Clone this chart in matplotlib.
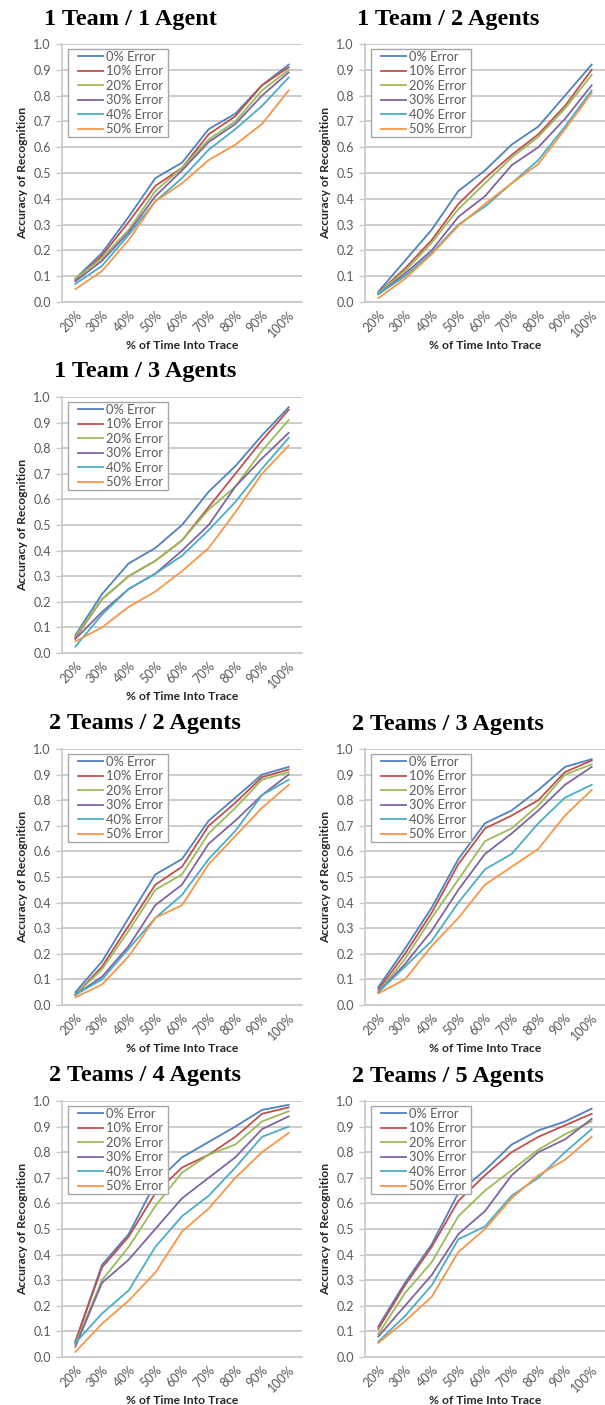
import matplotlib
matplotlib.use("Agg")
from matplotlib import pyplot as plt
from matplotlib.patches import Rectangle

# % of time into trace (category axis)
time_labels = ["20%", "30%", "40%", "50%", "60%", "70%", "80%", "90%", "100%"]
error_labels = ["0% Error", "10% Error", "20% Error", "30% Error", "40% Error", "50% Error"]
error_colors = ["#4F81BD", "#C0504D", "#9BBB59", "#8064A2", "#4BACC6", "#F79646"]

# accuracy of recognition, one row per error level
team1_agent1 = [
    [0.09, 0.19, 0.33, 0.48, 0.54, 0.67, 0.73, 0.84, 0.92],
    [0.085, 0.18, 0.31, 0.45, 0.52, 0.65, 0.72, 0.84, 0.91],
    [0.09, 0.17, 0.28, 0.43, 0.52, 0.63, 0.70, 0.82, 0.90],
    [0.08, 0.16, 0.27, 0.41, 0.51, 0.62, 0.69, 0.80, 0.89],
    [0.07, 0.14, 0.26, 0.39, 0.48, 0.59, 0.67, 0.76, 0.87],
    [0.05, 0.12, 0.24, 0.39, 0.46, 0.55, 0.61, 0.69, 0.82],
]
team1_agent2 = [
    [0.04, 0.16, 0.28, 0.43, 0.51, 0.61, 0.68, 0.80, 0.92],
    [0.035, 0.13, 0.24, 0.38, 0.48, 0.57, 0.65, 0.76, 0.90],
    [0.035, 0.12, 0.23, 0.36, 0.46, 0.56, 0.64, 0.75, 0.88],
    [0.03, 0.11, 0.20, 0.33, 0.41, 0.53, 0.60, 0.71, 0.84],
    [0.03, 0.10, 0.19, 0.30, 0.37, 0.46, 0.55, 0.68, 0.82],
    [0.015, 0.09, 0.185, 0.295, 0.38, 0.46, 0.535, 0.67, 0.81],
]
team1_agent3 = [
    [0.07, 0.23, 0.35, 0.41, 0.50, 0.63, 0.73, 0.85, 0.96],
    [0.06, 0.21, 0.30, 0.36, 0.44, 0.57, 0.70, 0.83, 0.95],
    [0.065, 0.21, 0.30, 0.36, 0.44, 0.56, 0.65, 0.79, 0.91],
    [0.055, 0.16, 0.25, 0.31, 0.40, 0.50, 0.65, 0.76, 0.86],
    [0.025, 0.15, 0.25, 0.31, 0.38, 0.48, 0.59, 0.72, 0.84],
    [0.045, 0.10, 0.18, 0.24, 0.32, 0.41, 0.55, 0.70, 0.81],
]
team2_agent2 = [
    [0.05, 0.17, 0.34, 0.51, 0.57, 0.72, 0.81, 0.90, 0.93],
    [0.04, 0.15, 0.31, 0.47, 0.54, 0.70, 0.79, 0.89, 0.92],
    [0.04, 0.14, 0.29, 0.45, 0.51, 0.67, 0.77, 0.88, 0.91],
    [0.04, 0.11, 0.23, 0.39, 0.47, 0.63, 0.72, 0.82, 0.90],
    [0.04, 0.10, 0.22, 0.34, 0.43, 0.57, 0.68, 0.82, 0.88],
    [0.03, 0.08, 0.19, 0.34, 0.39, 0.55, 0.66, 0.77, 0.86],
]
team2_agent3 = [
    [0.07, 0.22, 0.38, 0.57, 0.71, 0.76, 0.84, 0.93, 0.96],
    [0.06, 0.20, 0.36, 0.55, 0.69, 0.74, 0.80, 0.91, 0.955],
    [0.05, 0.18, 0.34, 0.49, 0.64, 0.69, 0.78, 0.90, 0.94],
    [0.05, 0.16, 0.29, 0.45, 0.59, 0.67, 0.76, 0.86, 0.93],
    [0.05, 0.15, 0.25, 0.40, 0.53, 0.59, 0.71, 0.81, 0.86],
    [0.045, 0.10, 0.23, 0.34, 0.47, 0.54, 0.61, 0.74, 0.84],
]
team2_agent4 = [
    [0.06, 0.36, 0.48, 0.68, 0.78, 0.84, 0.90, 0.965, 0.985],
    [0.06, 0.35, 0.47, 0.64, 0.74, 0.79, 0.86, 0.95, 0.975],
    [0.05, 0.30, 0.43, 0.59, 0.72, 0.79, 0.83, 0.92, 0.96],
    [0.04, 0.29, 0.38, 0.50, 0.62, 0.70, 0.78, 0.89, 0.94],
    [0.055, 0.17, 0.26, 0.43, 0.55, 0.63, 0.74, 0.86, 0.90],
    [0.02, 0.13, 0.22, 0.33, 0.49, 0.58, 0.70, 0.80, 0.875],
]
team2_agent5 = [
    [0.12, 0.29, 0.44, 0.64, 0.73, 0.83, 0.885, 0.92, 0.97],
    [0.11, 0.28, 0.43, 0.61, 0.71, 0.80, 0.86, 0.905, 0.95],
    [0.09, 0.25, 0.37, 0.55, 0.65, 0.73, 0.81, 0.87, 0.92],
    [0.08, 0.20, 0.32, 0.48, 0.57, 0.71, 0.80, 0.85, 0.93],
    [0.06, 0.16, 0.28, 0.46, 0.51, 0.63, 0.70, 0.80, 0.89],
    [0.055, 0.14, 0.235, 0.41, 0.50, 0.62, 0.71, 0.77, 0.86],
]

W, H = 605, 1405
LABEL_FONT = ["Lato", "DejaVu Sans"]
TITLE_FONT = ["Liberation Serif", "DejaVu Serif"]
GRID = "#C8C8C8"
TEXT_GRAY = "#595959"


def add_panel(fig, data, title, box, title_xy):
    left, top, right, bottom = box
    aw, ah = right - left, bottom - top
    ax = fig.add_axes([left / W, 1 - bottom / H, aw / W, ah / H])
    x = list(range(len(time_labels)))
    for values, label, color in zip(data, error_labels, error_colors):
        ax.plot(x, values, color=color, lw=1.3, label=label, zorder=3)

    ax.set_xlim(-0.5, len(time_labels) - 0.5)
    ax.set_ylim(0, 1.0)
    ax.set_yticks([i / 10 for i in range(11)])
    ax.set_yticklabels([f"{i / 10:.1f}" for i in range(11)])
    ax.set_xticks(x)
    ax.set_xticklabels(time_labels, rotation=45, ha="right", rotation_mode="anchor")
    ax.grid(axis="y", color=GRID, lw=1.3)
    ax.set_axisbelow(True)
    for side in ("top", "right"):
        ax.spines[side].set_visible(False)
    for side in ("left", "bottom"):
        ax.spines[side].set_color(GRID)
        ax.spines[side].set_linewidth(1.2)
    ax.tick_params(axis="y", length=4, width=1.0, color=GRID, pad=4, labelsize=9, labelcolor=TEXT_GRAY)
    ax.tick_params(axis="x", length=0, pad=5, labelsize=9, labelcolor=TEXT_GRAY)
    for lab in ax.get_xticklabels() + ax.get_yticklabels():
        lab.set_family(LABEL_FONT)

    ax.set_ylabel("Accuracy of Recognition", fontsize=8.7, fontweight="bold", family=LABEL_FONT,
                  color="#262626", labelpad=4)
    ax.set_xlabel("% of Time Into Trace", fontsize=8.7, fontweight="bold", family=LABEL_FONT,
                  color="#262626", labelpad=0)

    # Excel-style legend box: wide side padding, tight top/bottom
    ax.add_patch(Rectangle((6 / aw, 1 - 93 / ah), 100 / aw, 88 / ah, transform=ax.transAxes,
                           facecolor="white", edgecolor="#A6A6A6", lw=1.0, zorder=4))
    leg = ax.legend(loc="upper left", bbox_to_anchor=(16 / aw, 1 - 7 / ah), borderaxespad=0,
                    prop={"family": LABEL_FONT, "size": 9.3}, handlelength=1.9, handletextpad=0.3,
                    labelspacing=0.19, borderpad=0, frameon=False)
    leg.set_zorder(5)
    for t in leg.get_texts():
        t.set_color(TEXT_GRAY)

    fig.text(title_xy[0] / W, 1 - title_xy[1] / H, title, ha="center", va="baseline",
             fontsize=17.5, fontweight="bold", family=TITLE_FONT)
    return ax


fig = plt.figure(figsize=(W / 100, H / 100), dpi=100)

add_panel(fig, team1_agent1, "1 Team / 1 Agent", (62, 44, 302, 302), (130, 25))
add_panel(fig, team1_agent2, "1 Team / 2 Agents", (365, 44, 605, 302), (448, 25))
add_panel(fig, team1_agent3, "1 Team / 3 Agents", (62, 397, 302, 653), (145, 377))
add_panel(fig, team2_agent2, "2 Teams / 2 Agents", (62, 749, 302, 1005), (145, 729))
add_panel(fig, team2_agent3, "2 Teams / 3 Agents", (365, 749, 605, 1005), (448, 730))
add_panel(fig, team2_agent4, "2 Teams / 4 Agents", (62, 1101, 302, 1357), (145, 1081))
add_panel(fig, team2_agent5, "2 Teams / 5 Agents", (365, 1101, 605, 1357), (448, 1082))

fig.savefig("out.png", dpi=100)
